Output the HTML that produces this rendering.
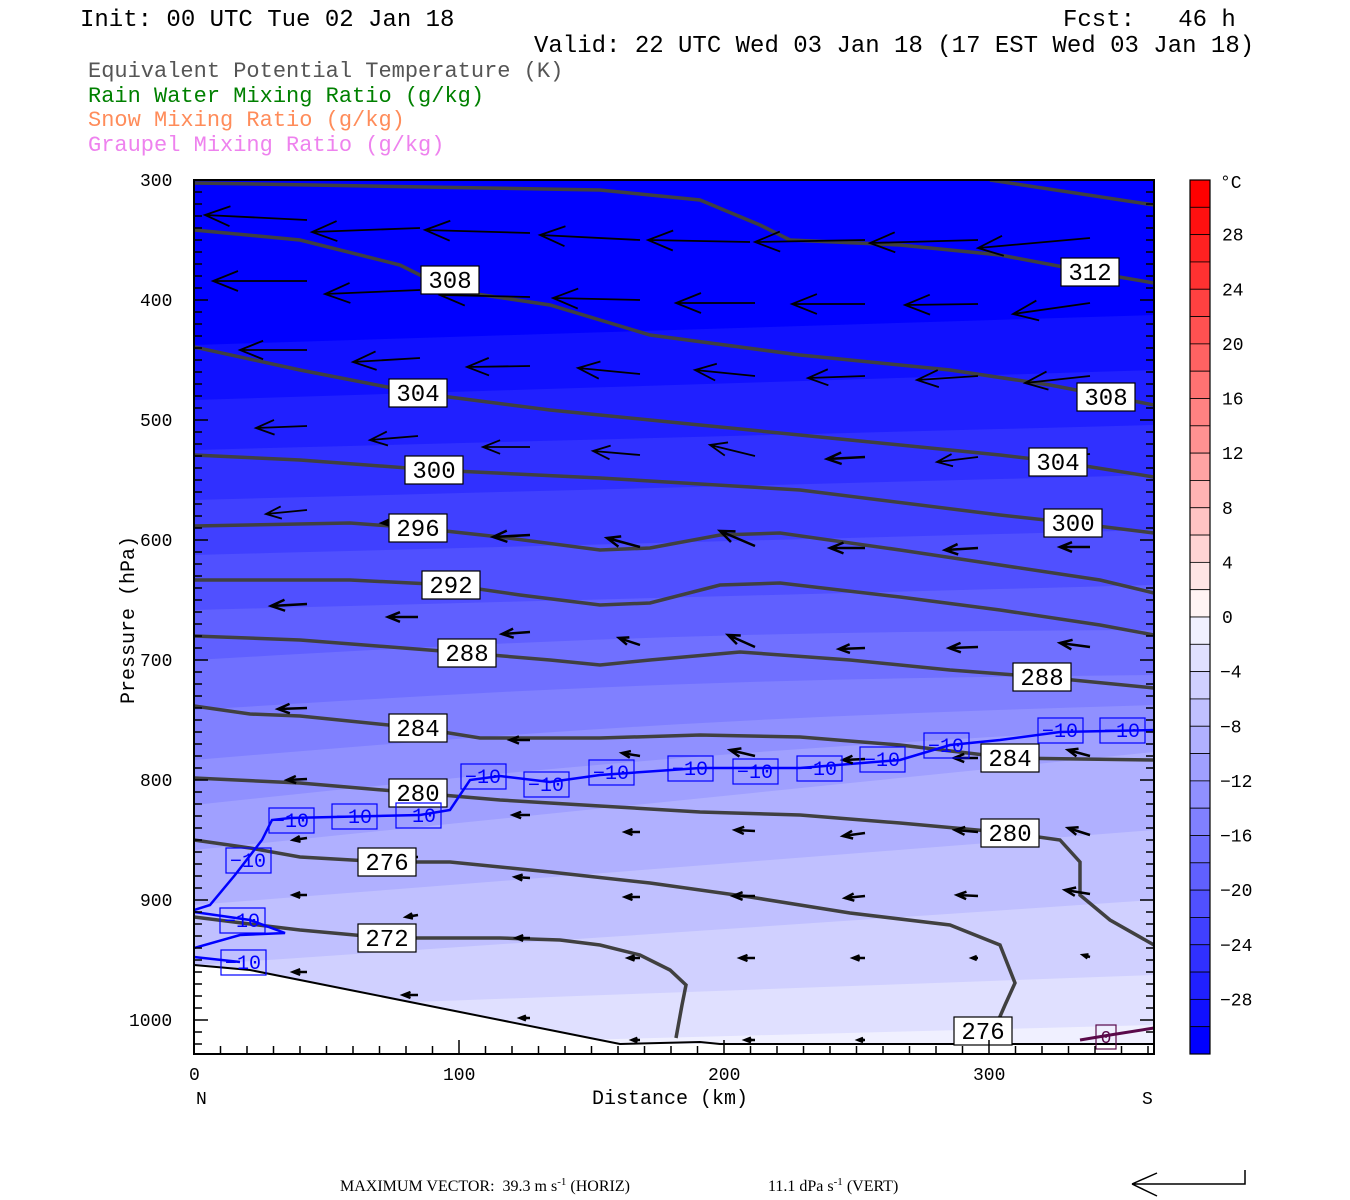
<!DOCTYPE html>
<html><head><meta charset="utf-8">
<style>
html,body{margin:0;padding:0;background:#fff;}
svg{display:block;}
text{font-family:"Liberation Mono",monospace;white-space:pre;}
</style></head>
<body>
<svg id="s" width="1350" height="1200" viewBox="0 0 1350 1200" xmlns="http://www.w3.org/2000/svg" xml:space="preserve">
<defs><clipPath id="pc"><rect x="194" y="180" width="960" height="874"/></clipPath></defs>
<g id="bands" clip-path="url(#pc)"></g>
<polygon points="194,965 250,970 300,980 350,990 400,1000 450,1010 500,1020 550,1030 600,1040 620,1044 1154,1044 1154,1054 194,1054" fill="#fff"/>
<polyline points="194,965 250,970 300,980 350,990 400,1000 450,1010 500,1020 550,1030 600,1040 620,1044 700,1042 720,1044 1154,1044" fill="none" stroke="#000" stroke-width="2"/>
<g id="theta" fill="none" stroke="#404040" stroke-width="3.5" clip-path="url(#pc)"></g>
<g fill="none" stroke="#0000ff" stroke-width="2.5" clip-path="url(#pc)">
<polyline points="194,910 210,905 235,875 262,840 272,820 290,818 420,815 450,810 470,780 500,776 550,782 600,775 700,768 800,768 900,760 950,745 1000,740 1060,732 1154,730"/>
<polyline points="194,948 240,935 285,933 250,920 194,912"/>
<polyline points="194,957 240,962"/>
</g>
<polyline points="1080,1040 1110,1035 1154,1028" fill="none" stroke="#5a0a4a" stroke-width="3"/>
<g id="arrows" stroke="#000" fill="none" stroke-width="2"></g>
<g id="labels"></g>
<rect x="194" y="180" width="960" height="874" fill="none" stroke="#000" stroke-width="2"/>
<g id="ticks" stroke="#000" stroke-width="1.5"></g>
<g id="cbar"></g>
<g font-size="18" fill="#000">
<text x="140" y="186">300</text><text x="140" y="306">400</text><text x="140" y="426">500</text>
<text x="140" y="546">600</text><text x="140" y="666">700</text><text x="140" y="786">800</text>
<text x="140" y="906">900</text><text x="129" y="1026">1000</text>
<text x="189" y="1080">0</text><text x="443" y="1080">100</text><text x="708" y="1080">200</text><text x="973" y="1080">300</text>
<text x="196" y="1104">N</text><text x="1142" y="1104">S</text>
<text x="592" y="1104" font-size="20">Distance (km)</text>
<text transform="translate(134,704) rotate(-90)" font-size="20">Pressure (hPa)</text>
</g>
<g font-size="24" fill="#000">
<text x="80" y="26">Init: 00 UTC Tue 02 Jan 18</text>
<text x="1063" y="26">Fcst:   46 h</text>
<text x="534" y="52">Valid: 22 UTC Wed 03 Jan 18 (17 EST Wed 03 Jan 18)</text>
</g>
<g font-size="22">
<text x="88" y="77" fill="#555">Equivalent Potential Temperature (K)</text>
<text x="88" y="102" fill="#008000">Rain Water Mixing Ratio (g/kg)</text>
<text x="88" y="126" fill="#ff8c5a">Snow Mixing Ratio (g/kg)</text>
<text x="88" y="151" fill="#ee82ee">Graupel Mixing Ratio (g/kg)</text>
</g>
<g fill="#000">
<text x="340" y="1191" font-size="16" style="font-family:'Liberation Serif',serif">MAXIMUM VECTOR:  39.3 m s<tspan dy="-6" font-size="11">-1</tspan><tspan dy="6"> (HORIZ)</tspan></text>
<text x="768" y="1191" font-size="16" style="font-family:'Liberation Serif',serif">11.1 dPa s<tspan dy="-6" font-size="11">-1</tspan><tspan dy="6"> (VERT)</tspan></text>
</g>
<path d="M1245,1170 L1245,1184 L1132,1184 M1132,1184 L1157,1173 M1132,1184 L1157,1196" stroke="#000" stroke-width="1.5" fill="none"/>
</svg>
<script>
const NS="http://www.w3.org/2000/svg";
function el(p,tag,a,txt){const e=document.createElementNS(NS,tag);for(const k in a)e.setAttribute(k,a[k]);if(txt!==undefined)e.textContent=txt;p.appendChild(e);return e;}
function col(T){
  if(T>=0){const v=Math.max(0,Math.round(244-244*T/30));return `rgb(255,${v},${v})`;}
  const f=(T+32)/30; const v=Math.round(240*f); return `rgb(${v},${v},255)`;
}
const B=document.getElementById('bands');
el(B,'rect',{x:194,y:180,width:960,height:874,fill:'#0000ff'});
const bd=[[-30,345,315],[-28,400,370],[-26,450,425],[-24,500,475],[-22,555,530],[-20,610,585],[-18,660,630],[-16,710,675],[-14,760,705],[-12,805,728],[-10,850,752],[-8,905,830],[-6,965,900],[-4,1010,975],[-2,1050,1025]];
bd.forEach(([T,yl,yr])=>{
  const pts=[];for(let i=0;i<=12;i++){const x=194+80*i;const t=i/12;let y=yl+(yr-yl)*t+ (T>-20&&T<-10? -8*Math.sin(Math.PI*t):0);pts.push(x+','+y);}
  pts.push('1154,1060','194,1060');
  el(B,'polygon',{points:pts.join(' '),fill:col(T)});
});
const TH=document.getElementById('theta');
[
"194,183 600,190 700,200 760,225 790,240 900,245 1000,255 1090,272 1154,283",
"990,180 1154,205",
"194,230 300,240 400,265 450,290 550,305 650,335 800,355 950,370 1050,385 1154,405",
"194,347 300,370 418,393 550,410 700,425 850,440 1000,455 1060,462 1154,477",
"194,455 300,460 434,470 600,478 800,490 1000,515 1073,523 1154,533",
"194,526 350,523 418,528 500,537 600,550 650,548 720,535 780,533 900,550 1000,565 1100,580 1154,593",
"194,580 350,580 451,585 520,595 600,605 650,603 720,585 780,583 900,597 1000,610 1100,625 1154,635",
"194,636 300,640 467,653 550,660 600,665 650,660 740,652 850,660 950,670 1042,677 1154,688",
"194,706 250,714 300,716 418,728 480,738 600,738 700,735 800,737 900,745 1010,758 1154,760",
"194,778 300,783 418,793 500,800 600,806 700,812 800,815 900,823 1010,833 1060,840 1080,862 1080,895 1110,920 1154,945",
"194,840 250,848 300,857 387,862 450,862 550,872 650,883 750,897 850,913 950,925 1000,945 1015,983 1005,1005 995,1028",
"194,917 250,924 300,930 387,938 500,938 560,940 600,945 640,955 670,970 686,985 682,1005 676,1038"
].forEach(p=>el(TH,'polyline',{points:p}));
const L=document.getElementById('labels');
function tl(x,y,t){el(L,'rect',{x:x-29,y:y-14,width:58,height:28,fill:'#fff',stroke:'#000','stroke-width':1.2});el(L,'text',{x:x,y:y+8,'text-anchor':'middle','font-size':24,fill:'#000'},t);}
[[450,280,'308'],[1090,272,'312'],[418,393,'304'],[1106,397,'308'],[434,470,'300'],[1058,462,'304'],[418,528,'296'],[1073,523,'300'],[451,585,'292'],[467,653,'288'],[1042,677,'288'],[418,728,'284'],[1010,758,'284'],[418,793,'280'],[1010,833,'280'],[387,862,'276'],[387,938,'272'],[983,1031,'276']].forEach(a=>tl(...a));
function bl(x,y){el(L,'rect',{x:x-22,y:y-12,width:45,height:25,fill:'none',stroke:'#0000ff','stroke-width':1.2});el(L,'text',{x:x,y:y+7,'text-anchor':'middle','font-size':20,fill:'#0000ff'},'−10');}
[[291,820],[354,816],[418,815],[483,776],[546,784],[611,772],[690,768],[755,771],[819,768],[882,759],[946,745],[1060,730],[1122,730],[248,860],[242,920],[243,962]].forEach(a=>bl(...a));
el(L,'rect',{x:1096,y:1025,width:20,height:24,fill:'none',stroke:'#5a0a4a','stroke-width':1.2});
el(L,'text',{x:1106,y:1043,'text-anchor':'middle','font-size':18,fill:'#5a0a4a'},'0');
const A=document.getElementById('arrows');
const arr=[
[205,215,307,220],[312,232,420,228],[425,230,530,233],[540,235,640,240],[648,240,750,242],[755,242,865,240],[870,243,978,240],[978,248,1090,238],
[213,281,307,281],[325,294,420,290],[440,295,530,297],[553,298,640,300],[676,303,755,303],[792,304,865,304],[905,305,978,304],[1013,314,1090,303],
[240,350,307,350],[353,362,420,358],[467,367,530,366],[578,368,640,374],[695,370,755,376],[808,378,865,376],[917,380,978,376],[1025,383,1090,376],
[256,428,307,426],[370,440,418,436],[483,447,530,447],[593,451,640,455],[710,445,755,456],[827,459,865,457],[937,462,978,457],[1045,457,1090,454],
[266,514,307,510],[382,523,418,521],[493,537,530,535],[607,538,640,547],[720,531,755,546],[830,548,865,548],[945,550,978,548],[1060,547,1090,547],
[271,606,307,604],[388,617,418,617],[502,634,530,632],[619,638,640,645],[728,635,755,647],[839,649,865,648],[949,648,978,647],[1060,643,1090,647],
[278,709,307,708],[395,718,418,721],[510,740,530,740],[622,753,640,756],[730,750,755,756],[843,760,865,759],[954,758,978,758],[1068,750,1090,756],
[287,780,307,779],[400,790,418,790],[513,815,530,815],[625,832,640,832],[735,830,755,831],[843,836,865,833],[955,830,978,832],[1068,828,1090,835],
[293,840,307,838],[403,857,418,857],[515,877,530,878],[625,897,640,897],[733,896,755,896],[845,898,865,896],[957,895,978,896],[1065,890,1090,894],
[293,895,307,895],[406,917,418,915],[516,938,530,938],[628,958,640,958],[740,958,755,958],[853,958,865,958],[972,958,978,958],[1083,955,1090,957],
[293,972,307,972],[403,995,418,995],[520,1018,530,1018],[632,1040,640,1040],[745,1040,755,1040],[858,1040,865,1040]];
arr.forEach(([x1,y1,x2,y2])=>{const dx=x2-x1,dy=y2-y1,len=Math.hypot(dx,dy);const ux=dx/len,uy=dy/len;const h=Math.min(25,0.3*len+3),w=h*0.4;
 const bx=x1+ux*h,by=y1+uy*h;
 el(A,'path',{d:`M${x2},${y2}L${x1},${y1}M${bx-uy*w},${by+ux*w}L${x1},${y1}L${bx+uy*w},${by-ux*w}`,'stroke-width':len<40?2.5:1.8});});
const K=document.getElementById('ticks');
for(let p=300;p<=1020;p+=10){const y=180+(p-300)*1.2;const m=p%100==0;el(K,'line',{x1:194,y1:y,x2:194+(m?14:8),y2:y});el(K,'line',{x1:1154,y1:y,x2:1154-(m?14:8),y2:y});}
for(let d=0;d<=360;d+=10){const x=194+d*2.65;const m=d%100==0;el(K,'line',{x1:x,y1:1054,x2:x,y2:1054-(m?14:8)});}
const C=document.getElementById('cbar');const h=874/32;
for(let i=0;i<32;i++){const T=30-2*i;el(C,'rect',{x:1190,y:180+i*h,width:20,height:h,fill:col(T),stroke:'#000','stroke-width':0.8});}
el(C,'rect',{x:1190,y:180,width:20,height:874,fill:'none',stroke:'#000','stroke-width':1.2});
el(C,'text',{x:1220,y:188,'font-size':18},'°C');
for(let k=0;k<15;k++){const T=28-4*k;const y=180+(2+2*k)*h;el(C,'text',{x:T<0?1220:1222,y:y+6,'font-size':18},(T<0?'−':'')+Math.abs(T));}
</script>
</body></html>
